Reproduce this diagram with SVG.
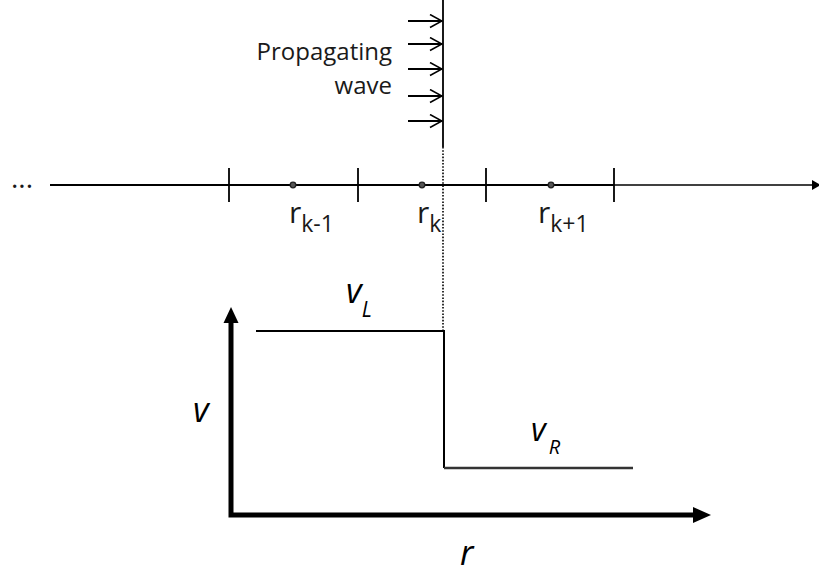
<svg xmlns="http://www.w3.org/2000/svg" width="819" height="574" viewBox="0 0 819 574">
<style>
.ln{stroke:#000;stroke-width:1.8;fill:none}
.thick{stroke:#000;stroke-width:5;fill:none}
.lbl{font-family:"Open Sans","Liberation Sans",sans-serif;fill:#1a1a1a}
.it{font-family:"Open Sans","Liberation Sans",sans-serif;font-style:italic;fill:#000}
.dot{fill:#555;stroke:#222;stroke-width:1.3}
</style>
<defs>
<marker id="open" markerWidth="14" markerHeight="16" refX="13" refY="7" orient="auto" markerUnits="userSpaceOnUse">
<path d="M1,0.5 L13,7 L1,13.5" fill="none" stroke="#000" stroke-width="1.6"/>
</marker>
</defs>
<rect width="819" height="574" fill="#fff"/>
<g id="wave">
<line x1="443" y1="0" x2="443" y2="147" class="ln"/>
<line x1="443" y1="147" x2="443" y2="331" stroke="#000" stroke-width="1.6" stroke-dasharray="1.6,1.6"/>
<line x1="408" y1="21" x2="442" y2="21" class="ln" marker-end="url(#open)"/>
<line x1="408" y1="44" x2="442" y2="44" class="ln" marker-end="url(#open)"/>
<line x1="408" y1="69" x2="442" y2="69" class="ln" marker-end="url(#open)"/>
<line x1="408" y1="96" x2="442" y2="96" class="ln" marker-end="url(#open)"/>
<line x1="408" y1="121" x2="442" y2="121" class="ln" marker-end="url(#open)"/>
<text class="lbl" x="392" y="60" font-size="24" text-anchor="end">Propagating</text>
<text class="lbl" x="392" y="94" font-size="24" text-anchor="end">wave</text>
</g>
<g id="grid">
<text class="lbl" x="11" y="188" font-size="28">...</text>
<line x1="50" y1="185" x2="614" y2="185" class="ln"/>
<line x1="614" y1="185" x2="813" y2="185" stroke="#404040" stroke-width="2.2"/>
<polygon points="812,180 821,185 812,190" fill="#000"/>
<line x1="229" y1="168" x2="229" y2="202" class="ln"/>
<line x1="358" y1="168" x2="358" y2="202" class="ln"/>
<line x1="486" y1="168" x2="486" y2="202" class="ln"/>
<line x1="614" y1="168" x2="614" y2="202" class="ln"/>
<circle cx="293" cy="185" r="2.8" class="dot"/>
<circle cx="422" cy="185" r="2.8" class="dot"/>
<circle cx="551" cy="185" r="2.8" class="dot"/>
<text class="lbl" x="289" y="223" font-size="30">r<tspan font-size="23" dy="9">k-1</tspan></text>
<text class="lbl" x="417" y="223" font-size="30">r<tspan font-size="23" dy="9">k</tspan></text>
<text class="lbl" x="538" y="223" font-size="30">r<tspan font-size="23" dy="9">k+1</tspan></text>
</g>
<g id="profile">
<polyline points="256,331 444,331 444,468" stroke="#000" stroke-width="2" fill="none"/>
<line x1="444" y1="468" x2="633" y2="468" stroke="#333" stroke-width="2.4"/>
<text class="it" x="346" y="303" font-size="34">v<tspan font-size="21" dy="14">L</tspan></text>
<text class="it" x="531" y="441" font-size="32">v<tspan font-size="20" dy="13" dx="3">R</tspan></text>
</g>
<g id="axes">
<polyline points="231,320 231,515 695,515" class="thick"/>
<polygon points="231,307 223.5,323 238.5,323" fill="#000"/>
<polygon points="711,515 693,507 693,523" fill="#000"/>
<text class="it" x="193" y="422" font-size="34">v</text>
<text class="it" x="460" y="565" font-size="34">r</text>
</g>
</svg>
